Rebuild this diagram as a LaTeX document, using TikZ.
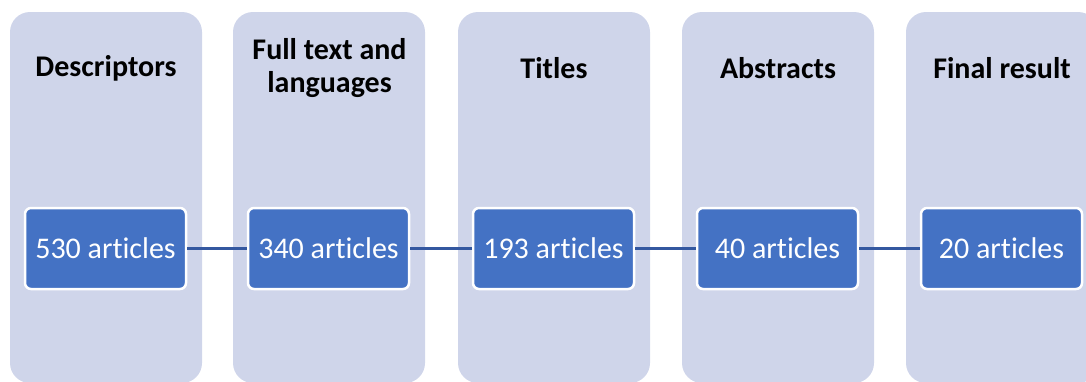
\documentclass[tikz,border=0pt]{standalone}
\usepackage{fontspec}
\setmainfont[Ligatures=NoCommon]{Carlito}
\definecolor{colfill}{RGB}{207,213,234}
\definecolor{boxfill}{RGB}{68,114,196}
\definecolor{linkcol}{RGB}{52,88,160}
\begin{document}
\begin{tikzpicture}[x=1pt,y=-1pt,
  column/.style={fill=colfill,draw=none,rounded corners=20pt},
  title/.style={font=\fontsize{30}{32.5}\selectfont\bfseries,align=center,text=black,inner sep=0pt},
  countbox/.style={fill=boxfill,draw=white,line width=2.5pt,rounded corners=6pt,minimum width=161pt,minimum height=81pt,inner sep=0pt,text=white,font=\fontsize{30}{32}\selectfont},
  link/.style={draw=linkcol,line width=3pt}]
\useasboundingbox (0,0) rectangle (1086,381);
\clip (0,0) rectangle (1086,381);
\foreach \x/\i in {10/1,233/2,458/3,682/4,906/5}{
  \fill[column] (\x,12) rectangle (\x+192,383);
}
\node[title] (t1) at (106,68) {Descriptors};
\node[title] (t2) at (329.5,68) {Full text and\\languages};
\node[title] (t3) at (554,68) {Titles};
\node[title] (t4) at (778,68) {Abstracts};
\node[title] (t5) at (1002,68) {Final result};
\node[countbox] (b1) at (105.5,248.5) {530 articles};
\node[countbox] (b2) at (328.5,248.5) {340 articles};
\node[countbox] (b3) at (553.5,248.5) {193 articles};
\node[countbox] (b4) at (777.5,248.5) {40 articles};
\node[countbox] (b5) at (1001.5,248.5) {20 articles};
\draw[link] (b1.east) -- (b2.west);
\draw[link] (b2.east) -- (b3.west);
\draw[link] (b3.east) -- (b4.west);
\draw[link] (b4.east) -- (b5.west);
\end{tikzpicture}
\end{document}
